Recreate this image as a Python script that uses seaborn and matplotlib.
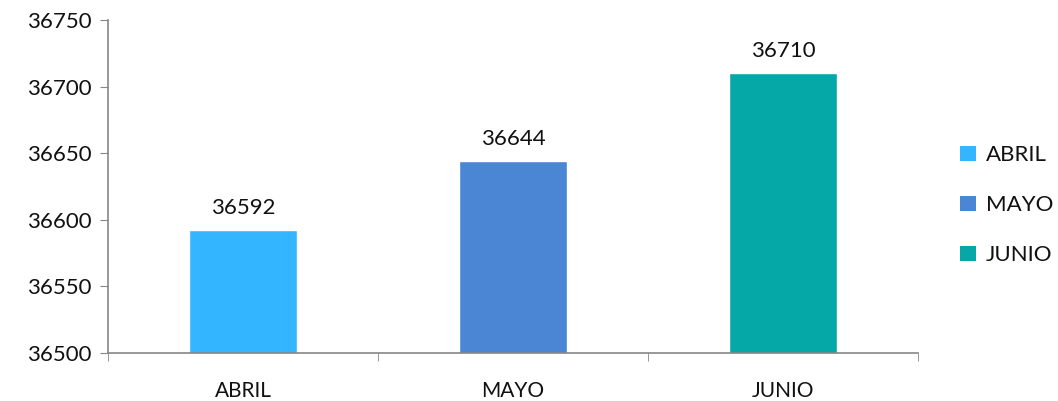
import numpy as np
import pandas as pd
import matplotlib
matplotlib.use('Agg')
import matplotlib.pyplot as plt
import seaborn as sns
from matplotlib.patches import Patch

# datos
meses = ['ABRIL', 'MAYO', 'JUNIO']
valores = [36592, 36644, 36710]
colores = ['#33B5FF', '#4A86D4', '#05A8A6']

sns.set_style('white')
plt.rcParams['font.family'] = ['Lato', 'DejaVu Sans']

df = pd.DataFrame({'mes': meses, 'valor': valores})

fig = plt.figure(figsize=(10.58, 4.01), dpi=100)
ax = fig.add_axes([0.102, 0.1197, 0.766, 0.8303])

sns.barplot(data=df, x='mes', y='valor', hue='mes', palette=colores,
            width=0.4, dodge=False, legend=False, ax=ax, saturation=1)

for c in ax.containers:
    ax.bar_label(c, fmt='%d', padding=9, fontsize=16, color='#111111')

ax.set_ylim(36500, 36750)
ax.set_yticks(np.arange(36500, 36751, 50))
ax.set_xlim(-0.5, 2.5)
ax.set_xlabel('')
ax.set_ylabel('')

gris = '#868686'
for s in ['top', 'right']:
    ax.spines[s].set_visible(False)
for s in ['left', 'bottom']:
    ax.spines[s].set_color(gris)
    ax.spines[s].set_linewidth(1.2)

ax.tick_params(axis='y', which='major', direction='out', length=6, color=gris,
               labelsize=16, pad=6, left=True, labelcolor='#111111')
ax.tick_params(axis='x', which='major', length=0, labelsize=15, pad=20,
               labelcolor='#111111')
ax.set_xticks([-0.5, 0.5, 1.5, 2.5], minor=True)
ax.tick_params(axis='x', which='minor', direction='out', length=6, color=gris,
               bottom=True)

handles = [Patch(facecolor=c, edgecolor='none') for c in colores]
ax.legend(handles, meses, loc='center left', bbox_to_anchor=(1.052, 0.444),
          frameon=False, fontsize=16, handlelength=0.7, handleheight=0.7,
          handletextpad=0.45, labelspacing=1.35, borderaxespad=0, borderpad=0,
          labelcolor='#111111')

fig.savefig('out.png', dpi=100)
